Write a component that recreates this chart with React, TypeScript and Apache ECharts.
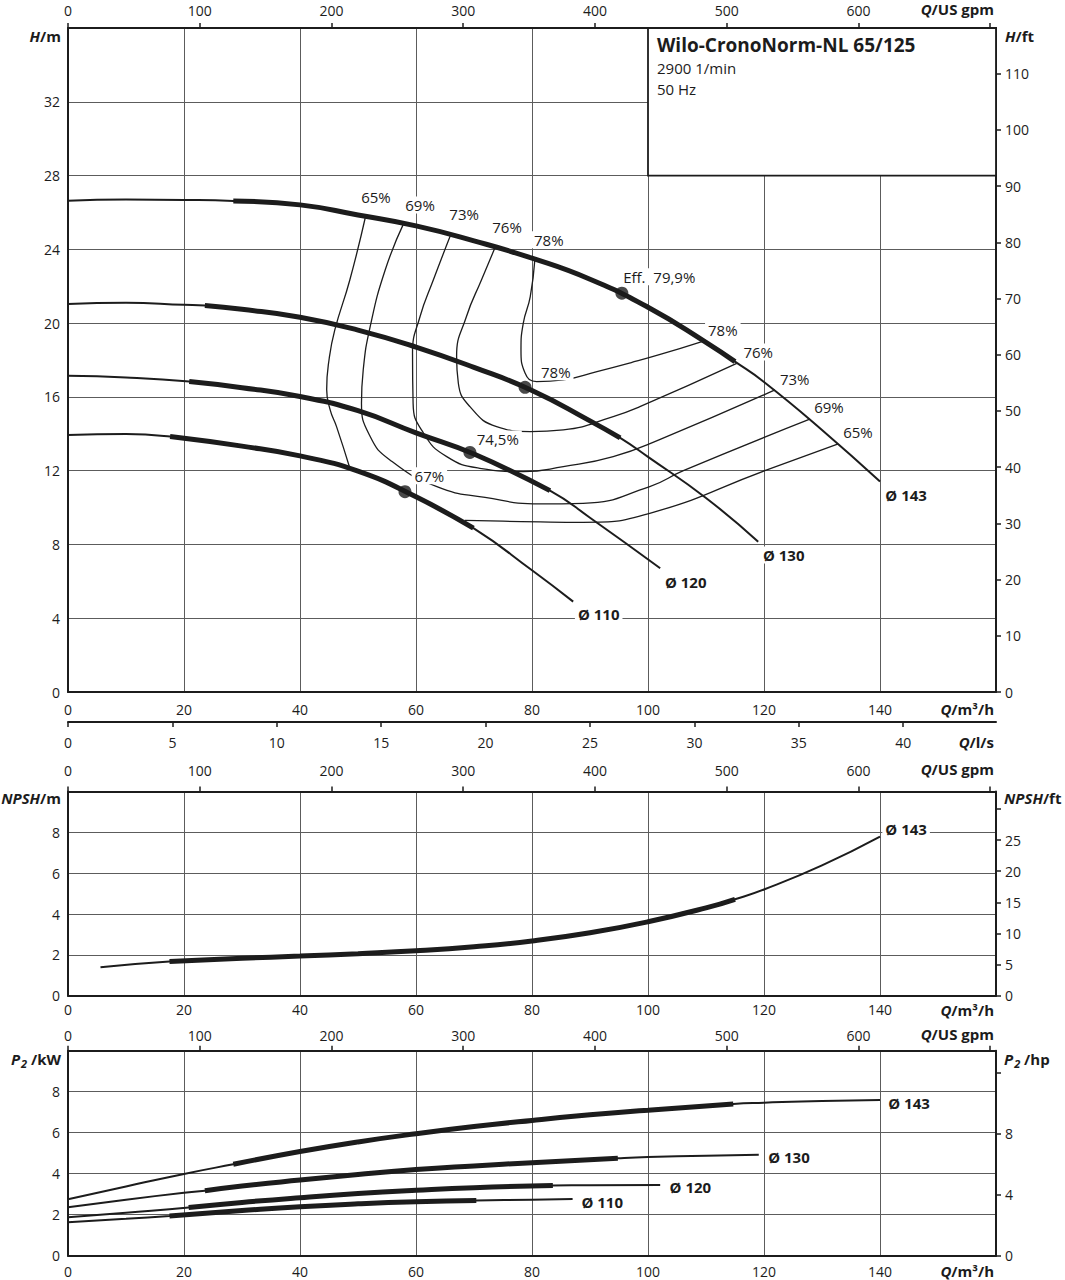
import { useEffect, useRef } from 'react';
import * as echarts from 'echarts';

type Pt = [number, number];

const FONT = '"Open Sans", "Noto Sans", "DejaVu Sans", sans-serif';
const INK = '#1c1c1c';
const GRID_LINE = '#5c5c5c';

// axis ranges and unit conversions
const Q_MAX = 160; // m³/h
const GPM_PER_M3H = 4.402868;
const LS_PER_M3H = 1 / 3.6;
const FT_PER_M = 1 / 0.3048;
const HP_PER_KW = 1 / 0.7457;
const H_MAX = 36;
const NPSH_MAX = 10;
const P2_MAX = 10;

// tick values
const qLabels = [0, 20, 40, 60, 80, 100, 120, 140];
const gpmTicks = [0, 100, 200, 300, 400, 500, 600, 700];
const gpmLabels = [0, 100, 200, 300, 400, 500, 600];
const lsLabels = [0, 5, 10, 15, 20, 25, 30, 35, 40];
const hLabels = [0, 4, 8, 12, 16, 20, 24, 28, 32];
const hFtLabels = [0, 10, 20, 30, 40, 50, 60, 70, 80, 90, 100, 110];
const npshLabels = [0, 2, 4, 6, 8];
const npshFtTicks = [0, 5, 10, 15, 20, 25, 30];
const npshFtLabels = [0, 5, 10, 15, 20, 25];
const p2Labels = [0, 2, 4, 6, 8];
const hpTicks = [0, 4, 8, 12];
const hpLabels = [0, 4, 8];

const impellers = ['Ø 143', 'Ø 130', 'Ø 120', 'Ø 110'];

// H(Q) in m, Q in m³/h
const head143: Pt[] = [[0, 26.63], [10, 26.7], [20, 26.68], [28.5, 26.62], [40, 26.41], [50, 25.86], [60, 25.27], [70, 24.46], [80, 23.52], [90, 22.38], [100, 20.86], [110, 18.96], [115, 17.91], [120, 16.81], [130, 14.21], [140, 11.41]];
const head130: Pt[] = [[0, 21.03], [10, 21.1], [20, 20.99], [23.6, 20.95], [30, 20.75], [40, 20.32], [50, 19.62], [60, 18.7], [70, 17.6], [80, 16.35], [90, 14.7], [95.2, 13.78], [100, 12.75], [110, 10.52], [119, 8.15]];
const head120: Pt[] = [[0, 17.14], [10, 17.05], [20.9, 16.83], [30, 16.5], [40, 16.02], [50, 15.25], [60, 14.05], [70, 12.9], [83.1, 10.92], [90, 9.45], [102.1, 6.71]];
const head110: Pt[] = [[0, 13.94], [10, 13.99], [17.6, 13.85], [30, 13.33], [40, 12.8], [50, 11.97], [60, 10.58], [69.9, 8.88], [80, 6.6], [87.1, 4.9]];
// recommended duty range (thick part) per impeller
const headRange: Pt[] = [[28.5, 115], [23.6, 95.2], [20.9, 83.1], [17.6, 69.9]];

// best efficiency points
const bep: Pt[] = [[95.5, 21.62], [78.8, 16.52], [69.3, 12.99], [58.1, 10.86]];
const bepLabels = ['Eff. \u00a079,9%', '78%', '74,5%', '67%'];
const bepLabelPos: Pt[] = [[95.2, 22.51], [84.1, 17.36], [74.1, 13.72], [62.3, 11.72]];

// iso-efficiency lines
const eff65Left: Pt[] = [[51.3, 25.78], [48.6, 22.35], [46.0, 19.63], [45.0, 18.0], [44.6, 16.4], [45.2, 15.3], [46.3, 14.39], [48.6, 12.13]];
const eff65Low: Pt[] = [[68.4, 9.3], [75, 9.26], [81.4, 9.22], [88.8, 9.2], [100.3, 9.69], [120.5, 12.04], [132.8, 13.45]];
const eff69: Pt[] = [[57.9, 25.42], [54.7, 22.89], [52.1, 19.81], [50.9, 17.46], [50.6, 15.66], [52.1, 13.85], [55.5, 12.58], [63.6, 11.13], [71.9, 10.55], [81.4, 10.2], [88.8, 10.23], [100.3, 11.14], [106.1, 12.0], [127.9, 14.79]];
const eff73: Pt[] = [[66.0, 24.8], [63.0, 22.35], [60.7, 20.36], [59.4, 18.37], [59.5, 15.66], [61.3, 14.03], [65.3, 12.76], [71.0, 12.13], [78.5, 11.95], [85.4, 12.22], [94.0, 12.76], [102.1, 13.7], [121.9, 16.38]];
const eff76: Pt[] = [[73.7, 24.15], [71.3, 22.35], [68.7, 20.36], [67.0, 18.19], [67.3, 16.74], [69.3, 15.47], [73.9, 14.39], [79.7, 14.12], [85.4, 14.21], [94.0, 14.93], [98.6, 15.47], [115.3, 17.82]];
const eff78: Pt[] = [[80.5, 23.47], [79.7, 21.44], [78.5, 20.0], [78.1, 18.55], [78.8, 17.29], [80.8, 16.83], [85.4, 16.92], [91.2, 17.37], [97, 17.85], [102.1, 18.3], [109.3, 19.0]];
const effNames = ['65%', '69%', '73%', '76%', '78%'];
const effTopPos: Pt[] = [[53.1, 26.85], [60.7, 26.41], [68.3, 25.93], [75.7, 25.22], [82.9, 24.52]];
const effRightPos: Pt[] = [[136.2, 14.1], [131.2, 15.46], [125.3, 16.98], [119.0, 18.44], [112.9, 19.63]];
const headTagPos: Pt[] = [[140.4, 10.68], [119.3, 7.43], [102.4, 5.98], [87.4, 4.23]];

// info box (Q from–to, H from–to)
const infoBox: Pt[] = [[100, 28], [160, 36]];
const infoLines = ['Wilo-CronoNorm-NL 65/125', '2900 1/min', '50 Hz'];

// NPSH(Q) in m, impeller 143
const npsh143: Pt[] = [[5.6, 1.39], [17.5, 1.67], [30, 1.83], [40, 1.94], [50, 2.06], [60, 2.2], [70, 2.4], [80, 2.68], [90, 3.08], [100, 3.62], [110, 4.3], [115, 4.72], [120, 5.2], [130, 6.38], [140, 7.79]];
const npshRange: Pt = [17.5, 115];
const npshTagPos: Pt = [140.4, 8.16];

// P2(Q) in kW
const power143: Pt[] = [[0, 2.75], [10, 3.38], [20, 3.99], [28.5, 4.46], [40, 5.08], [50, 5.55], [60, 5.95], [70, 6.3], [80, 6.6], [90, 6.87], [100, 7.1], [114.7, 7.4], [120, 7.46], [130, 7.55], [140, 7.6]];
const power130: Pt[] = [[0, 2.36], [10, 2.73], [20, 3.07], [23.6, 3.17], [30, 3.4], [40, 3.69], [50, 3.96], [60, 4.2], [70, 4.38], [80, 4.54], [94.8, 4.75], [100, 4.81], [110, 4.88], [119.1, 4.93]];
const power120: Pt[] = [[0, 1.87], [10, 2.1], [20.8, 2.35], [30, 2.6], [40, 2.83], [50, 3.03], [60, 3.19], [70, 3.32], [83.6, 3.43], [90, 3.44], [102.1, 3.45]];
const power110: Pt[] = [[0, 1.63], [10, 1.8], [17.5, 1.94], [30, 2.2], [40, 2.39], [50, 2.53], [60, 2.63], [70.4, 2.69], [80, 2.73], [87, 2.76]];
const powerRange: Pt[] = [[28.5, 114.7], [23.6, 94.8], [20.8, 83.6], [17.5, 70.4]];
const powerTagPos: Pt[] = [[140.9, 7.45], [120.2, 4.8], [103.2, 3.34], [88.0, 2.6]];

const within = (pts: Pt[], [a, b]: Pt) => pts.filter(([q]) => q >= a - 1e-6 && q <= b + 1e-6);

const tickFont = { fontFamily: FONT, fontSize: 14, color: INK };
const blackLine = { color: INK, width: 2 };

function bottomQ(gridIndex: number, margin: number) {
  return {
    type: 'value', gridIndex, position: 'bottom', min: 0, max: Q_MAX, interval: 20,
    axisLine: { show: true, onZero: false, lineStyle: blackLine },
    axisTick: { show: false },
    axisLabel: { ...tickFont, margin, customValues: qLabels, formatter: (v: number) => (v >= Q_MAX ? '' : String(v)) },
    splitLine: { show: true, lineStyle: { color: GRID_LINE, width: 1 } },
  };
}

function topGpm(gridIndex: number, margin: number) {
  return {
    type: 'value', gridIndex, position: 'top', min: 0, max: Q_MAX * GPM_PER_M3H, interval: 100,
    axisLine: { show: true, onZero: false, lineStyle: blackLine },
    axisTick: { show: true, inside: false, length: 5, customValues: gpmTicks, lineStyle: { color: INK, width: 1.5 } },
    axisLabel: { ...tickFont, margin, customValues: gpmLabels, formatter: (v: number) => (v > 650 ? '' : String(v)) },
    splitLine: { show: false },
  };
}

function leftAxis(gridIndex: number, max: number, interval: number, labels: number[], split = true) {
  return {
    type: 'value', gridIndex, position: 'left', min: 0, max, interval,
    axisLine: { show: true, onZero: false, lineStyle: blackLine },
    axisTick: { show: false },
    axisLabel: { ...tickFont, margin: 8, customValues: labels, formatter: (v: number) => (v >= max ? '' : String(v)) },
    splitLine: { show: split, lineStyle: { color: GRID_LINE, width: 1 } },
  };
}

function rightAxis(gridIndex: number, max: number, interval: number, ticks: number[], labels: number[]) {
  return {
    type: 'value', gridIndex, position: 'right', min: 0, max, interval,
    axisLine: { show: true, onZero: false, lineStyle: blackLine },
    axisTick: { show: true, inside: false, length: 5, customValues: ticks, lineStyle: { color: INK, width: 1.5 } },
    axisLabel: { ...tickFont, margin: 9, customValues: labels, formatter: (v: number) => (labels.includes(Math.round(v)) && Math.abs(v - Math.round(v)) < 1e-6 ? String(v) : '') },
    splitLine: { show: false },
  };
}

function curve(data: Pt[], xAxisIndex: number, yAxisIndex: number, width: number, z = 4) {
  return {
    type: 'line', xAxisIndex, yAxisIndex, data, symbol: 'none', silent: true, z,
    smooth: 0.5,
    lineStyle: { color: INK, width, cap: 'butt' },
  };
}

type Tag = { name: string; value: Pt; align: 'left' | 'center' };

function tags(items: Tag[], xAxisIndex: number, yAxisIndex: number, bold: boolean) {
  return {
    type: 'scatter', xAxisIndex, yAxisIndex, symbolSize: 1, silent: true, z: 10,
    itemStyle: { color: 'rgba(0,0,0,0)' },
    data: items.map((it) => ({ name: it.name, value: it.value, label: { align: it.align } })),
    label: {
      show: true, position: 'inside', formatter: '{b}', fontFamily: FONT,
      fontSize: 15, fontWeight: bold ? 'bold' : 'normal', color: INK,
      textBorderWidth: 0, textBorderColor: 'transparent', opacity: 1,
      backgroundColor: '#fff', padding: [1, 3],
    },
  };
}

function axisName(text: string, x: number, y: number, align: 'left' | 'right') {
  return {
    type: 'text', x, y, silent: true, z: 20,
    style: {
      text, align, verticalAlign: 'middle', fill: INK,
      rich: {
        i: { fontFamily: FONT, fontSize: 15, fontStyle: 'italic', fontWeight: 'bold', fill: INK },
        b: { fontFamily: FONT, fontSize: 15, fontWeight: 'bold', fill: INK },
        s: { fontFamily: FONT, fontSize: 11, fontStyle: 'italic', fontWeight: 'bold', fill: INK, padding: [9, 0, 0, 1] },
      },
    },
  };
}

function buildOption() {
  const heads = [head143, head130, head120, head110];
  const powers = [power143, power130, power120, power110];
  const series: any[] = [];

  // top panel: H(Q)
  heads.forEach((h, i) => {
    const thin = curve(h, 0, 0, 2) as any;
    if (i === 0) {
      thin.markArea = {
        silent: true,
        itemStyle: { color: '#fff', borderColor: INK, borderWidth: 1.8 },
        data: [[{ coord: infoBox[0] }, { coord: infoBox[1] }]],
      };
    }
    series.push(thin);
    series.push(curve(within(h, headRange[i]), 0, 0, 5, 5));
  });
  [eff65Left, eff65Low, eff69, eff73, eff76, eff78].forEach((e) => series.push(curve(e, 0, 0, 1.3, 3)));
  series.push({
    type: 'scatter', xAxisIndex: 0, yAxisIndex: 0, data: bep, symbol: 'circle', symbolSize: 13,
    itemStyle: { color: INK }, silent: true, z: 6,
  });
  series.push(tags([
    ...effNames.map((n, i) => ({ name: n, value: effTopPos[i], align: 'center' as const })),
    ...effNames.map((n, i) => ({ name: n, value: effRightPos[i], align: 'center' as const })),
    ...bepLabels.map((n, i) => ({ name: n, value: bepLabelPos[i], align: (i === 0 ? 'left' : 'center') as 'left' | 'center' })),
  ], 0, 0, false));
  series.push(tags(impellers.map((n, i) => ({ name: n, value: headTagPos[i], align: 'left' as const })), 0, 0, true));

  // middle panel: NPSH
  series.push(curve(npsh143, 3, 2, 2));
  series.push(curve(within(npsh143, npshRange), 3, 2, 5, 5));
  series.push(tags([{ name: impellers[0], value: npshTagPos, align: 'left' }], 3, 2, true));

  // bottom panel: P2
  powers.forEach((p, i) => {
    series.push(curve(p, 5, 4, 2));
    series.push(curve(within(p, powerRange[i]), 5, 4, 5, 5));
  });
  series.push(tags(impellers.map((n, i) => ({ name: n, value: powerTagPos[i], align: 'left' as const })), 5, 4, true));

  return {
    animation: false,
    backgroundColor: '#fff',
    textStyle: { fontFamily: FONT },
    grid: [
      { left: 68, top: 28, width: 928, height: 664, outerBoundsMode: 'none' },
      { left: 68, top: 791.5, width: 928, height: 204.2, outerBoundsMode: 'none' },
      { left: 68, top: 1050.7, width: 928, height: 205, outerBoundsMode: 'none' },
    ],
    xAxis: [
      bottomQ(0, 10),
      {
        type: 'value', gridIndex: 0, position: 'bottom', offset: 30, min: 0, max: Q_MAX * LS_PER_M3H, interval: 5,
        axisLine: { show: true, onZero: false, lineStyle: blackLine },
        axisTick: { show: true, inside: false, length: 5, customValues: lsLabels, lineStyle: { color: INK, width: 1.5 } },
        axisLabel: { ...tickFont, margin: 13, customValues: lsLabels, formatter: (v: number) => (v > 42 ? '' : String(v)) },
        splitLine: { show: false },
      },
      topGpm(0, 11),
      bottomQ(1, 7),
      topGpm(1, 14),
      bottomQ(2, 9),
      topGpm(2, 8),
    ],
    yAxis: [
      leftAxis(0, H_MAX, 4, hLabels),
      rightAxis(0, H_MAX * FT_PER_M, 10, hFtLabels, hFtLabels),
      leftAxis(1, NPSH_MAX, 2, npshLabels),
      rightAxis(1, NPSH_MAX * FT_PER_M, 5, npshFtTicks, npshFtLabels),
      leftAxis(2, P2_MAX, 2, p2Labels),
      rightAxis(2, P2_MAX * HP_PER_KW, 4, hpTicks, hpLabels),
    ],
    series,
    graphic: [
      axisName('{i|Q}{b|/US gpm}', 994, 9, 'right'),
      axisName('{i|H}{b|/m}', 61, 36, 'right'),
      axisName('{i|H}{b|/ft}', 1005, 36, 'left'),
      axisName('{i|Q}{b|/m³/h}', 994, 709, 'right'),
      axisName('{i|Q}{b|/l/s}', 994, 742, 'right'),
      axisName('{i|Q}{b|/US gpm}', 994, 769, 'right'),
      axisName('{i|NPSH}{b|/m}', 61, 798, 'right'),
      axisName('{i|NPSH}{b|/ft}', 1004, 798, 'left'),
      axisName('{i|Q}{b|/m³/h}', 994, 1010, 'right'),
      axisName('{i|Q}{b|/US gpm}', 994, 1034, 'right'),
      axisName('{i|P}{s|2}{b| /kW}', 61, 1059, 'right'),
      axisName('{i|P}{s|2}{b| /hp}', 1004, 1059, 'left'),
      axisName('{i|Q}{b|/m³/h}', 994, 1271, 'right'),
      {
        type: 'text', x: 657, y: 45, silent: true, z: 20,
        style: { text: infoLines[0], align: 'left', verticalAlign: 'middle', fill: INK, font: `bold 19px ${FONT}` },
      },
      {
        type: 'text', x: 657, y: 68, silent: true, z: 20,
        style: { text: infoLines[1], align: 'left', verticalAlign: 'middle', fill: INK, font: `15px ${FONT}` },
      },
      {
        type: 'text', x: 657, y: 89, silent: true, z: 20,
        style: { text: infoLines[2], align: 'left', verticalAlign: 'middle', fill: INK, font: `15px ${FONT}` },
      },
    ],
  };
}

export default function App() {
  const chartRef = useRef<HTMLDivElement>(null);

  useEffect(() => {
    if (!chartRef.current) return;
    const chart = echarts.init(chartRef.current, undefined, { renderer: 'svg' });
    chart.setOption(buildOption() as any);
    return () => {
      chart.dispose();
    };
  }, []);

  return (
    <div
      ref={chartRef}
      style={{ position: 'absolute', left: 0, top: 0, width: 1065, height: 1280, background: '#fff' }}
    />
  );
}
